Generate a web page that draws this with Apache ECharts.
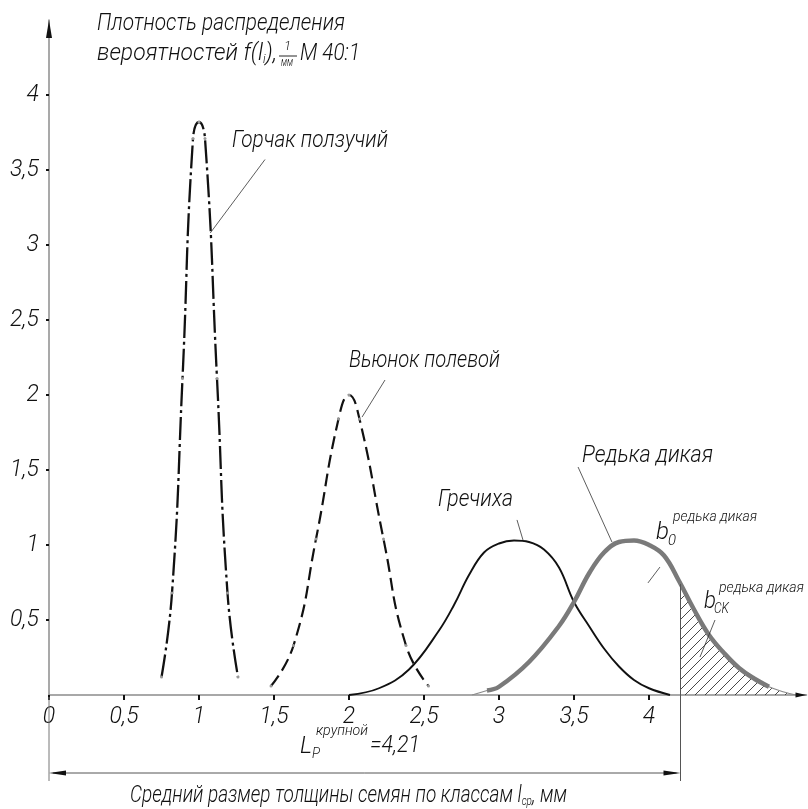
<!DOCTYPE html>
<html>
<head>
<meta charset="utf-8">
<script src="https://cdn.jsdelivr.net/npm/echarts@6/dist/echarts.min.js"></script>
<style>
html, body { margin: 0; padding: 0; background: #fff; }
#chart { width: 808px; height: 809px; }
</style>
</head>
<body>
<div id="chart"></div>
<script>
// Axis ticks
const xTicks = [0, 0.5, 1, 1.5, 2, 2.5, 3, 3.5, 4];
const yTicks = [0.5, 1, 1.5, 2, 2.5, 3, 3.5, 4];

// Probability density f(l) of seed thickness l, 1/mm
const gorchak = [[0.75, 0.12], [0.82, 0.68], [0.89, 2.11], [0.96, 3.71], [1.0, 3.82], [1.04, 3.71], [1.12, 2.11], [1.19, 0.68], [1.26, 0.12]];
const vyunok = [[1.48, 0.06], [1.63, 0.33], [1.78, 1.04], [1.93, 1.84], [2.0, 2.0], [2.07, 1.84], [2.23, 1.04], [2.38, 0.33], [2.53, 0.06]];
const grechikha = [[2.0, 0], [2.2, 0.045], [2.4, 0.17], [2.6, 0.43], [2.7, 0.6], [2.8, 0.8], [2.9, 0.95], [3.0, 1.01], [3.1, 1.03], [3.2, 1.02], [3.3, 0.97], [3.4, 0.85], [3.5, 0.62], [3.6, 0.46], [3.7, 0.31], [3.8, 0.19], [3.9, 0.1], [4.0, 0.045], [4.14, 0]];
const redka = [[2.82, 0], [2.92, 0.03], [3.0, 0.055], [3.2, 0.22], [3.4, 0.46], [3.5, 0.62], [3.6, 0.81], [3.7, 0.95], [3.8, 1.02], [3.9, 1.03], [4.0, 1.0], [4.1, 0.93], [4.2, 0.76], [4.3, 0.57], [4.4, 0.4], [4.5, 0.28], [4.6, 0.18], [4.7, 0.11], [4.8, 0.055], [4.9, 0.02], [4.98, 0]];

// Coarse fraction boundary and the density of wild radish there
const lCoarse = 4.21;
const redkaAtLCoarse = 0.74;
// Span of the wild radish curve drawn with the heavy stroke
const redkaBold = [2.92, 4.83];

const FAMILY = "Roboto, 'Liberation Sans', sans-serif";
const INK = '#111';

function hatchPattern() {
  const c = document.createElement('canvas');
  c.width = 10; c.height = 10;
  const g = c.getContext('2d');
  g.strokeStyle = '#333';
  g.lineWidth = 0.9;
  g.beginPath();
  g.moveTo(0, 10); g.lineTo(10, 0);
  g.moveTo(-2, 2); g.lineTo(2, -2);
  g.moveTo(8, 12); g.lineTo(12, 8);
  g.stroke();
  return c;
}

const decimal = v => String(v).replace('.', ',');
const pointStyle = { color: '#9a9a9a', borderWidth: 0 };
const labelFont = { fontFamily: FAMILY, fontStyle: 'italic', fontWeight: 300, fontSize: 23, color: INK };

const option = {
  animation: false,
  backgroundColor: '#fff',
  grid: { left: 49, right: 1.5, top: 20, bottom: 114, containLabel: false },
  xAxis: {
    type: 'value', min: 0, max: 5.05,
    axisLine: { show: true, onZero: false, lineStyle: { color: '#8c8c8c', width: 1.5 } },
    axisTick: { show: true, length: 5, customValues: xTicks, lineStyle: { color: INK, width: 2 } },
    axisLabel: Object.assign({ customValues: xTicks, formatter: decimal, margin: 11 }, labelFont),
    splitLine: { show: false }
  },
  yAxis: {
    type: 'value', min: 0, max: 4.5, interval: 0.5,
    axisLine: { show: true, onZero: false, lineStyle: { color: '#8c8c8c', width: 1.5 } },
    axisTick: { show: true, length: 3, customValues: yTicks, lineStyle: { color: INK, width: 2 } },
    axisLabel: Object.assign({ customValues: yTicks, formatter: decimal, margin: 10 }, labelFont),
    splitLine: { show: false }
  },
  series: [
    {
      name: 'Редька дикая — штриховка', type: 'line', z: 1,
      data: [[lCoarse, redkaAtLCoarse]].concat(redka.filter(p => p[0] > lCoarse)),
      smooth: 0.4, showSymbol: false,
      lineStyle: { width: 0, opacity: 0 },
      areaStyle: { color: { image: hatchPattern(), repeat: 'repeat' }, opacity: 1 }
    },
    {
      name: 'Горчак ползучий', type: 'line', z: 3, data: gorchak, smooth: 0.5,
      symbol: 'circle', symbolSize: 3, itemStyle: pointStyle,
      lineStyle: { color: INK, width: 2.3, type: [23, 4, 3, 4] }
    },
    {
      name: 'Вьюнок полевой', type: 'line', z: 3, data: vyunok, smooth: 0.5,
      symbol: 'circle', symbolSize: 3, itemStyle: pointStyle,
      lineStyle: { color: INK, width: 2.2, type: [13, 6] }
    },
    {
      name: 'Гречиха', type: 'line', z: 3, data: grechikha, smooth: 0.4,
      showSymbol: false,
      lineStyle: { color: INK, width: 1.9 }
    },
    {
      name: 'Редька дикая', type: 'line', z: 2, data: redka, smooth: 0.4,
      showSymbol: false,
      lineStyle: { color: '#8a8a8a', width: 1.2 }
    },
    {
      name: 'Редька дикая', type: 'line', z: 4,
      data: redka.filter(p => p[0] >= redkaBold[0] && p[0] <= redkaBold[1]), smooth: 0.4,
      showSymbol: false,
      lineStyle: { color: '#7a7a7a', width: 4.5 }
    }
  ]
};

const chart = echarts.init(document.getElementById('chart'));
chart.setOption(option);

const P = (x, y) => chart.convertToPixel({ gridIndex: 0 }, [x, y]);

// text measuring for fitting captions to their drafted width
const mctx = document.createElement('canvas').getContext('2d');
function measure(t, size) {
  mctx.font = 'italic 300 ' + size + 'px ' + FAMILY;
  return mctx.measureText(t).width;
}
// pieces: [text, fontSize, dy, dx]; laid out left to right, then squeezed to width
function label(pieces, x, y, width) {
  let cx = 0;
  const children = [];
  pieces.forEach(p => {
    cx += p[3] || 0;
    children.push({
      type: 'text', x: cx, y: p[2] || 0,
      style: { text: p[0], fill: INK, fontFamily: FAMILY, fontStyle: 'italic', fontWeight: 300, fontSize: p[1], align: 'left', verticalAlign: 'middle' }
    });
    cx += measure(p[0], p[1]);
  });
  return { type: 'group', x: x, y: y, scaleX: width ? width / cx : 1, silent: true, z: 10, children: children };
}
function seg(a, b, w, color) {
  return {
    type: 'line', silent: true, z: 9,
    shape: { x1: a[0], y1: a[1], x2: b[0], y2: b[1] },
    style: { stroke: color || '#333', lineWidth: w || 0.8 }
  };
}
function arrow(tip, dir, len, half) {
  const bx = tip[0] - dir[0] * len, by = tip[1] - dir[1] * len;
  const nx = -dir[1] * half, ny = dir[0] * half;
  return {
    type: 'polygon', silent: true, z: 10,
    shape: { points: [[tip[0], tip[1]], [bx + nx, by + ny], [bx - nx, by - ny]] },
    style: { fill: INK }
  };
}

const origin = P(0, 0);
const yTop = P(0, 4.5);
const xEnd = P(5.05, 0);
const lcTop = P(lCoarse, redkaAtLCoarse);
const dimY = 773;
const extBottom = 781;

const g = [];
// axis arrowheads
g.push(arrow(yTop, [0, -1], 18, 3));
g.push(arrow(xEnd, [1, 0], 11, 2.5));

// boundary of the coarse fraction and its dimension line
g.push(seg([origin[0], origin[1] + 2], [origin[0], extBottom], 1, '#777'));
g.push(seg(lcTop, [lcTop[0], extBottom], 1, '#555'));
g.push(seg([origin[0] + 4, dimY], [lcTop[0] - 4, dimY], 1, '#555'));
g.push(arrow([origin[0], dimY], [-1, 0], 17, 2.6));
g.push(arrow([lcTop[0], dimY], [1, 0], 17, 2.6));

// leader lines from captions to curves
const lead = [
  [[1.44, 3.57], [1.075, 3.08]],
  [[2.24, 2.1], [2.087, 1.853]],
  [[3.12, 1.167], [3.16, 1.033]],
  [[3.527, 1.52], [3.753, 1.02]],
  [[4.073, 0.853], [3.993, 0.747]],
  [[4.44, 0.5], [4.34, 0.253]]
];
lead.forEach(l => g.push(seg(P(l[0][0], l[0][1]), P(l[1][0], l[1][1]), 0.8, '#333')));

// ordinate caption
g.push(label([['Плотность распределения', 23]], 97, 24, 248));
g.push(label([['вероятностей f(l', 23], ['i', 12, 6], ['),', 23]], 97, 54, 180));
g.push(label([['1', 13]], 284, 47, 7));
g.push(seg([279, 56], [297, 56], 0.9, INK));
g.push(label([['мм', 12]], 281, 63, 12));
g.push(label([['M 40:1', 23]], 300, 54, 60));

// curve captions
g.push(label([['Горчак ползучий', 23]], 232, 141, 156));
g.push(label([['Вьюнок полевой', 23]], 349, 361, 151));
g.push(label([['Гречиха', 23]], 438, 500, 75));
g.push(label([['Редька дикая', 23]], 582, 456, 131));

g.push(label([['b', 23]], 656, 533, 13));
g.push(label([['0', 15]], 668, 541, 8));
g.push(label([['редька дикая', 15]], 673, 517, 84));
g.push(label([['b', 23]], 704, 602, 12));
g.push(label([['CK', 15]], 714, 609, 15));
g.push(label([['редька дикая', 15]], 719, 588, 85));

// coarse fraction boundary caption
g.push(label([['L', 23]], 300, 747, 12));
g.push(label([['P', 15]], 312, 754, 8));
g.push(label([['крупной', 14]], 316, 731, 52));
g.push(label([['=4,21', 23]], 370, 746, 50));

// abscissa caption
g.push(label([['Средний размер толщины семян по классам l', 23], ['ср', 12, 6], [', мм', 23]], 130, 796, 437));

chart.setOption({ graphic: { elements: g } });
</script>
</body>
</html>
